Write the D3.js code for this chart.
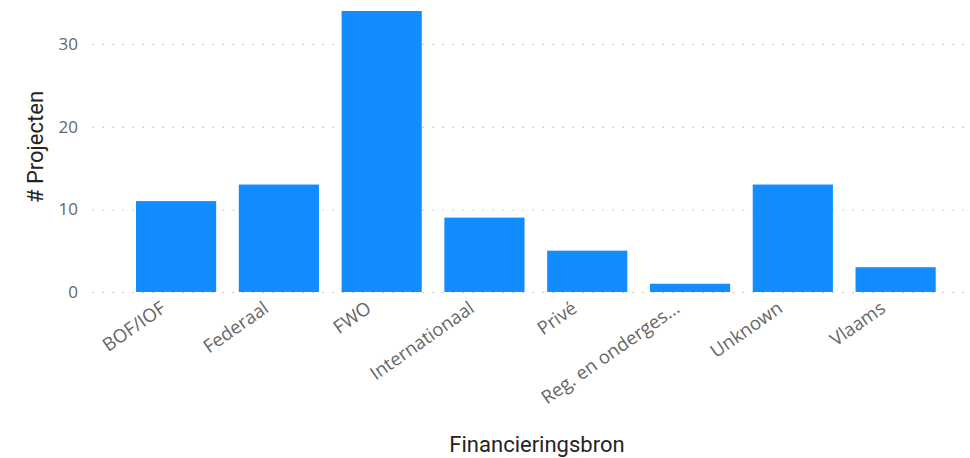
<!DOCTYPE html>
<html>
<head>
<meta charset="utf-8">
<script src="https://cdn.jsdelivr.net/npm/d3@7"></script>
<style>
  body { margin: 0; background: #fff; }
  svg { display: block; }
</style>
</head>
<body>
<div id="chart"></div>
<script>
var categories = ['BOF/IOF', 'Federaal', 'FWO', 'Internationaal', 'Privé', 'Reg. en onderges...', 'Unknown', 'Vlaams'];
var projects = [11, 13, 34, 9, 5, 1, 13, 3];
var yTicks = [0, 10, 20, 30];

var width = 970,
  height = 458;

var svg = d3
  .select('#chart')
  .append('svg')
  .attr('width', width)
  .attr('height', height);

var x = d3
  .scaleBand()
  .domain(categories)
  .range([124.7, 947])
  .paddingInner(0.22)
  .paddingOuter(0.11);

var y = d3.scaleLinear().domain([0, 34]).range([292, 11]);

// grid
svg
  .append('g')
  .selectAll('line')
  .data(yTicks)
  .join('line')
  .attr('x1', 93)
  .attr('x2', 966)
  .attr('y1', function (d) { return y(d) + 0.5; })
  .attr('y2', function (d) { return y(d) + 0.5; })
  .attr('stroke', '#c8c8c8')
  .attr('stroke-width', 1.4)
  .attr('stroke-linecap', 'round')
  .attr('stroke-dasharray', '0.5,9.5');

// bars
svg
  .append('g')
  .selectAll('rect')
  .data(projects)
  .join('rect')
  .attr('x', function (d, i) { return x(categories[i]); })
  .attr('y', function (d) { return y(d); })
  .attr('width', x.bandwidth())
  .attr('height', function (d) { return y(0) - y(d); })
  .attr('fill', '#118dff');

// y axis
var yAxis = svg
  .append('g')
  .attr('transform', 'translate(78,0)')
  .call(d3.axisLeft(y).tickValues(yTicks).tickSize(0).tickPadding(0));
yAxis.select('.domain').remove();
yAxis
  .selectAll('text')
  .attr('fill', '#666666')
  .style('font-family', '"Open Sans", sans-serif')
  .style('font-size', '17px');

// x axis
var xAxis = svg
  .append('g')
  .attr('transform', 'translate(0,' + y(0) + ')')
  .call(d3.axisBottom(x).tickSize(0).tickPadding(0));
xAxis.select('.domain').remove();
xAxis
  .selectAll('text')
  .attr('fill', '#666666')
  .style('font-family', '"Open Sans", sans-serif')
  .style('font-size', '18.5px')
  .attr('text-anchor', 'end')
  .attr('dy', '0')
  .attr('transform', 'translate(-9,19) rotate(-35)');

// axis titles
svg
  .append('text')
  .attr('transform', 'translate(43,147) rotate(-90)')
  .attr('text-anchor', 'middle')
  .attr('fill', '#252423')
  .style('font-family', 'Roboto, sans-serif')
  .style('font-size', '22px')
  .text('# Projecten');

svg
  .append('text')
  .attr('x', 537)
  .attr('y', 452)
  .attr('text-anchor', 'middle')
  .attr('fill', '#252423')
  .style('font-family', 'Roboto, sans-serif')
  .style('font-size', '22px')
  .text('Financieringsbron');
</script>
</body>
</html>
